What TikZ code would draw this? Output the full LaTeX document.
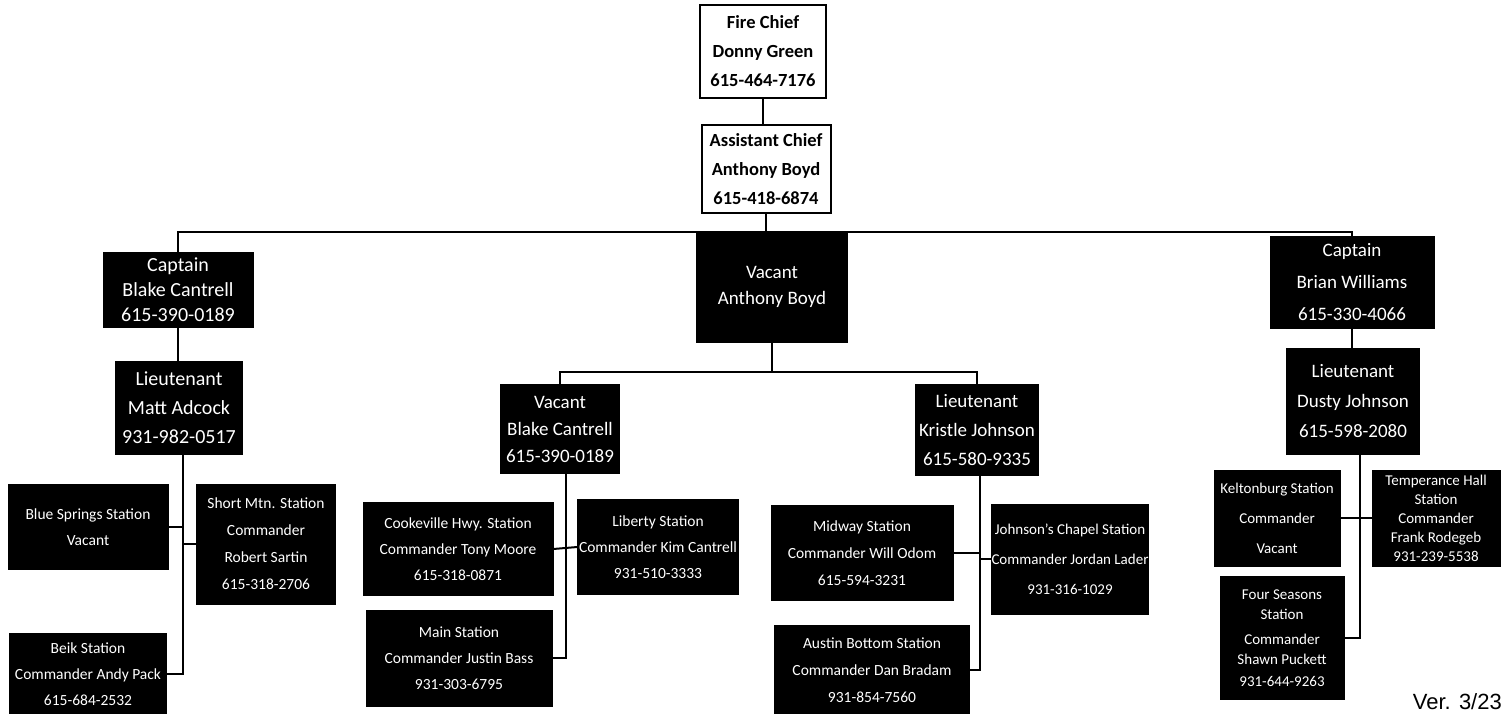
\documentclass[tikz,border=0pt]{standalone}
\usepackage{fontspec}
\setmainfont{Carlito}
\newfontfamily\verfont{Liberation Sans}
\begin{document}
\begin{tikzpicture}[x=1pt,y=-1pt,
  topbox/.style={draw=black,line width=2pt,fill=white,text=black,align=center,inner sep=0pt,font=\bfseries\fontsize{18.5}{29}\selectfont},
  darkbox/.style={draw=black,fill=black,text=white,align=center,inner sep=0pt},
  lead/.style={darkbox,font=\fontsize{20}{29}\selectfont},
  stn/.style={darkbox,font=\fontsize{15.5}{26}\selectfont},
  conn/.style={line width=2pt,draw=black}]
\useasboundingbox (0,0) rectangle (1506,713);
\fill[white] (0,0) rectangle (1506,713);
% top
\node[topbox,minimum width=126pt,minimum height=93pt] (fc) at (763,51) {Fire Chief\\Donny Green\\615-464-7176};
\node[topbox,minimum width=129pt,minimum height=88pt] (ac) at (766,169) {Assistant Chief\\Anthony Boyd\\615-418-6874};
% second level
\node[lead,minimum width=150pt,minimum height=75pt,font=\fontsize{20}{25}\selectfont] (cb) at (178,290) {Captain\\Blake Cantrell\\615-390-0189};
\node[lead,minimum width=151pt,minimum height=110pt,font=\fontsize{19}{26}\selectfont] (vab) at (772,287) {Vacant\\Anthony Boyd};
\node[lead,minimum width=164pt,minimum height=92pt,font=\fontsize{19}{32}\selectfont] (cbw) at (1352,282) {Captain\\Brian Williams\\615-330-4066};
% lieutenants
\node[lead,minimum width=127pt,minimum height=93pt] (lm) at (179,408) {Lieutenant\\Matt Adcock\\931-982-0517};
\node[lead,minimum width=119pt,minimum height=89pt,font=\fontsize{19}{27}\selectfont] (vbc) at (560,429) {Vacant\\Blake Cantrell\\615-390-0189};
\node[lead,minimum width=123pt,minimum height=91pt,font=\fontsize{19}{29}\selectfont] (lk) at (977,430) {Lieutenant\\Kristle Johnson\\615-580-9335};
\node[lead,minimum width=133pt,minimum height=106pt,font=\fontsize{19}{30}\selectfont] (ld) at (1353,401) {Lieutenant\\Dusty Johnson\\615-598-2080};
% stations left
\node[stn,minimum width=160pt,minimum height=85pt] (bs) at (88,527) {Blue Springs Station\\Vacant};
\node[stn,minimum width=139pt,minimum height=120pt,font=\fontsize{15.5}{27}\selectfont] (sm) at (266,544) {Short Mtn. Station\\Commander\\Robert Sartin\\615-318-2706};
\node[stn,minimum width=157pt,minimum height=82pt] (bk) at (88,674) {Beik Station\\Commander Andy Pack\\615-684-2532};
% stations mid-left
\node[stn,minimum width=190pt,minimum height=93pt] (cv) at (458,549) {Cookeville Hwy. Station\\Commander Tony Moore\\615-318-0871};
\node[stn,minimum width=161pt,minimum height=95pt] (lib) at (658,547) {Liberty Station\\Commander Kim Cantrell\\931-510-3333};
\node[stn,minimum width=186pt,minimum height=96pt] (mn) at (459,658) {Main Station\\Commander Justin Bass\\931-303-6795};
% stations mid-right
\node[stn,minimum width=182pt,minimum height=95pt,font=\fontsize{15.5}{27}\selectfont] (mw) at (862,553) {Midway Station\\Commander Will Odom\\615-594-3231};
\node[stn,minimum width=156pt,minimum height=110pt,font=\fontsize{15}{30}\selectfont] (jc) at (1070,559) {Johnson's Chapel Station\\Commander Jordan Lader\\931-316-1029};
\node[stn,minimum width=195pt,minimum height=90pt,font=\fontsize{15.5}{27}\selectfont] (ab) at (872,670) {Austin Bottom Station\\Commander Dan Bradam\\931-854-7560};
% stations right
\node[stn,minimum width=126pt,minimum height=96pt,font=\fontsize{15}{30}\selectfont] (kb) at (1277,518) {Keltonburg Station\\Commander\\Vacant};
\node[stn,minimum width=128pt,minimum height=96pt,font=\fontsize{15}{19}\selectfont] (th) at (1436,518) {Temperance Hall\\Station\\Commander\\Frank Rodegeb\\931-239-5538};
\node[stn,minimum width=124pt,minimum height=123pt,font=\fontsize{15}{20}\selectfont] (fs) at (1282,638) {Four Seasons\\Station\\[5pt]Commander\\Shawn Puckett\\[2pt]931-644-9263};
% version
\node[anchor=south east,inner sep=0pt,font=\verfont\fontsize{22}{22}\selectfont] (ver) at (1502,710) {Ver. 3/23};
% connectors
\coordinate (bar) at (0,232);
\coordinate (bar2) at (0,372);
\draw[conn] (fc.south) -- (fc.south |- ac.north);
\draw[conn] (ac.south) -- (ac.south |- vab.north);
\draw[conn] (cb.north) -- (cb.north |- bar) -- (cbw.north |- bar) -- (cbw.north);
\draw[conn] (cb.south) -- (cb.south |- lm.north);
\draw[conn] (cbw.south) -- (cbw.south |- ld.north);
\draw[conn] (vab.south) -- (vab.south |- bar2);
\draw[conn] (vbc.north) -- (vbc.north |- bar2) -- (lk.north |- bar2) -- (lk.north);
% left stations
\coordinate (t1) at (183,0);
\draw[conn] (lm.south -| t1) -- (t1 |- bk.east) -- (bk.east);
\draw[conn] (bs.east) -- (bs.east -| t1);
\draw[conn] (sm.west) -- (sm.west -| t1);
% mid-left
\coordinate (t2) at (566,0);
\draw[conn] (vbc.south -| t2) -- (t2 |- mn.east) -- (mn.east);
\draw[conn] (cv.east) -- (lib.west);
% mid-right
\coordinate (t3) at (980,0);
\draw[conn] (lk.south -| t3) -- (t3 |- ab.east) -- (ab.east);
\draw[conn] (mw.east) -- (mw.east -| t3);
\draw[conn] (jc.west) -- (jc.west -| t3);
% right
\coordinate (t4) at (1360,0);
\draw[conn] (ld.south -| t4) -- (t4 |- fs.east) -- (fs.east);
\draw[conn] (kb.east) -- (th.west);
\end{tikzpicture}
\end{document}
